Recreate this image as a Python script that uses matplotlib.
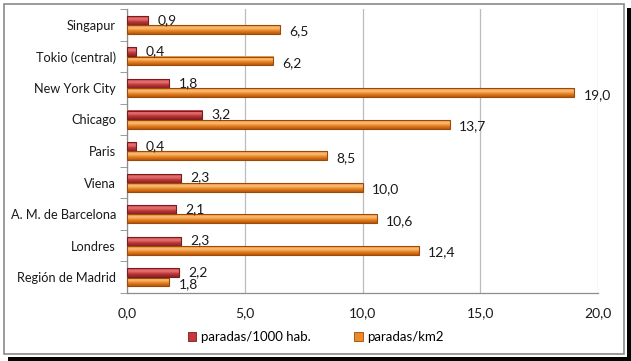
import numpy as np
import matplotlib
matplotlib.use("Agg")
import matplotlib.pyplot as plt
from matplotlib.patches import Patch, Rectangle
from matplotlib.colors import LinearSegmentedColormap
from matplotlib.ticker import FuncFormatter, FixedLocator

OUTPUT_IMAGE = "out.png"

cities = ["Región de Madrid", "Londres", "A. M. de Barcelona", "Viena", "Paris",
          "Chicago", "New York City", "Tokio (central)", "Singapur"]
per_1000 = [2.2, 2.3, 2.1, 2.3, 0.4, 3.2, 1.8, 0.4, 0.9]
per_km2 = [1.8, 12.4, 10.6, 10.0, 8.5, 13.7, 19.0, 6.2, 6.5]
series_names = ["paradas/1000 hab.", "paradas/km2"]

RED = "#c8383a"
ORANGE = "#ee8a26"
red_cmap = LinearSegmentedColormap.from_list("r", ["#8e2224", "#b83436", "#e67476", "#cf4446"])
orange_cmap = LinearSegmentedColormap.from_list("o", ["#b5560c", "#e57e1e", "#f9be78", "#f09536"])


def fmt(v):
    return f"{v:.1f}".replace(".", ",")


def shade(ax, bars, cmap, edge):
    grad = np.linspace(0, 1, 64).reshape(-1, 1)
    for b in bars:
        x0, y0, w, h = b.get_x(), b.get_y(), b.get_width(), b.get_height()
        ax.imshow(grad, extent=[x0, x0 + w, y0, y0 + h], origin="lower", aspect="auto",
                  cmap=cmap, zorder=3, interpolation="bilinear")
        ax.add_patch(Rectangle((x0, y0), w, h, fill=False, edgecolor=edge, lw=0.8, zorder=4))


def main():
    plt.rcParams["font.family"] = ["Lato", "DejaVu Sans"]
    fig = plt.figure(figsize=(6.31, 3.61), dpi=100)
    ax = fig.add_axes([127 / 631, 1 - 293 / 361, 471 / 631, 284 / 361])

    y = np.arange(len(cities))
    h = 0.28
    red_bars = ax.barh(y + 0.14, per_1000, height=h, color=RED, zorder=2)
    org_bars = ax.barh(y - 0.15, per_km2, height=h, color=ORANGE, zorder=2)
    shade(ax, red_bars, red_cmap, "#7a1c1e")
    shade(ax, org_bars, orange_cmap, "#9c4a0a")

    for i, v in enumerate(per_1000):
        ax.annotate(fmt(v), (v, y[i] + 0.14), xytext=(6.5, 0.5), textcoords="offset points",
                    ha="left", va="center", fontsize=10, color="#1a1a1a", zorder=5)
    for i, v in enumerate(per_km2):
        ax.annotate(fmt(v), (v, y[i] - 0.15), xytext=(6.5, -1.5), textcoords="offset points",
                    ha="left", va="center", fontsize=10, color="#1a1a1a", zorder=5)

    ax.set_xlim(0, 20)
    ax.set_ylim(-0.5, len(cities) - 0.5)
    ax.set_xticks([0, 5, 10, 15, 20])
    ax.xaxis.set_major_formatter(FuncFormatter(lambda v, p: fmt(v)))
    ax.set_yticks(y)
    ax.set_yticklabels(cities)
    ax.yaxis.set_minor_locator(FixedLocator(np.arange(-0.5, len(cities), 1.0)))
    ax.tick_params(axis="y", which="major", length=0, pad=8, labelsize=9.2, labelcolor="#1a1a1a")
    ax.tick_params(axis="y", which="minor", length=5, color="#8c8c8c", direction="out")
    ax.tick_params(axis="x", length=0, pad=10, labelsize=10, labelcolor="#1a1a1a")
    ax.grid(axis="x", color="#bcbcbc", lw=0.9, zorder=0)
    ax.set_axisbelow(True)
    for s in ["top", "right"]:
        ax.spines[s].set_visible(False)
    for s in ["left", "bottom"]:
        ax.spines[s].set_color("#8c8c8c")
        ax.spines[s].set_linewidth(0.9)

    handles = [Patch(facecolor=RED, edgecolor="#7a1c1e", lw=0.6),
               Patch(facecolor=ORANGE, edgecolor="#9c4a0a", lw=0.6)]
    fig.legend(handles, series_names, loc="center", bbox_to_anchor=(316 / 631, 1 - 337 / 361),
               ncol=2, frameon=False, fontsize=9.5, handlelength=0.65, handleheight=0.65,
               handletextpad=0.35, columnspacing=3.3)

    # chart frame with dark shadow
    fig.add_artist(Rectangle((3.5 / 631, 1 - 354 / 361), 620 / 631, 350 / 361,
                             transform=fig.transFigure, fill=False, edgecolor="#8a8a8a", lw=1.2))
    fig.add_artist(Rectangle((627 / 631, 0), 4 / 631, 1 - 8 / 361,
                             transform=fig.transFigure, facecolor="black", edgecolor="none"))
    fig.add_artist(Rectangle((8 / 631, 0), 623 / 631, 4 / 361,
                             transform=fig.transFigure, facecolor="black", edgecolor="none"))

    fig.savefig(OUTPUT_IMAGE, dpi=100)


if __name__ == "__main__":
    main()
